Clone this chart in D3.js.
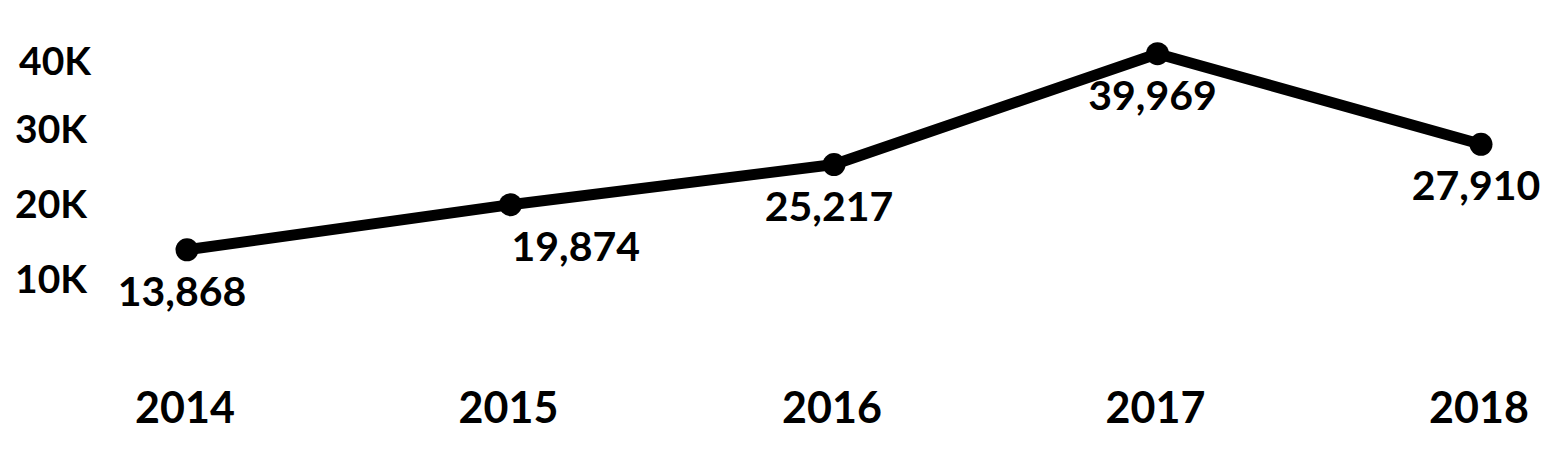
<!DOCTYPE html>
<html>
<head>
<meta charset="utf-8">
<script src="https://cdn.jsdelivr.net/npm/d3@7"></script>
<style>
  html, body { margin: 0; padding: 0; background: #fff; }
  text { font-family: Lato, "Open Sans", sans-serif; font-weight: bold; fill: #000; }
</style>
</head>
<body>
<div id="chart"></div>
<script>
// data
var years = ["2014", "2015", "2016", "2017", "2018"];
var counts = [13868, 19874, 25217, 39969, 27910];
var yTicks = [10000, 20000, 30000, 40000];
var yTickLabels = ["10K", "20K", "30K", "40K"];

var width = 1565, height = 465;

var svg = d3.select("#chart")
    .append("svg")
    .attr("width", width)
    .attr("height", height);

var x = d3.scalePoint()
    .domain(years)
    .range([187, 1481]);

var y = d3.scaleLinear()
    .domain([0, 40000])
    .range([354, 53.5]);

// Y axis labels (no line, no ticks)
svg.append("g")
    .selectAll("text")
    .data(yTicks)
    .enter()
    .append("text")
    .attr("x", function (d, i) { return i === yTicks.length - 1 ? 91 : 87; })
    .attr("y", function (d) { return Math.max(y(d), 61); })
    .attr("dy", "0.36em")
    .attr("text-anchor", "end")
    .style("font-size", "39px")
    .text(function (d, i) { return yTickLabels[i]; });

// X axis labels
svg.append("g")
    .selectAll("text")
    .data(years)
    .enter()
    .append("text")
    .attr("x", function (d) { return x(d) - 2; })
    .attr("y", 423)
    .attr("text-anchor", "middle")
    .style("font-size", "43px")
    .text(function (d) { return d; });

var points = years.map(function (d, i) { return { year: d, value: counts[i] }; });

// Line
var line = d3.line()
    .x(function (d) { return x(d.year); })
    .y(function (d) { return y(d.value); });

svg.append("path")
    .datum(points)
    .attr("d", line)
    .attr("fill", "none")
    .attr("stroke", "#000")
    .attr("stroke-width", 11)
    .attr("stroke-linejoin", "round");

// Markers
svg.selectAll("circle")
    .data(points)
    .enter()
    .append("circle")
    .attr("cx", function (d) { return x(d.year); })
    .attr("cy", function (d) { return y(d.value); })
    .attr("r", 11.5)
    .attr("fill", "#000");

// Value labels
var fmt = d3.format(",");
svg.append("g")
    .selectAll("text")
    .data(points)
    .enter()
    .append("text")
    .attr("x", function (d, i) { return i === 1 ? x(d.year) + 1 : x(d.year) - 5; })
    .attr("y", function (d) { return y(d.value) + 56; })
    .attr("text-anchor", function (d, i) { return i === 1 ? "start" : "middle"; })
    .style("font-size", "41px")
    .text(function (d) { return fmt(d.value); });
</script>
</body>
</html>
